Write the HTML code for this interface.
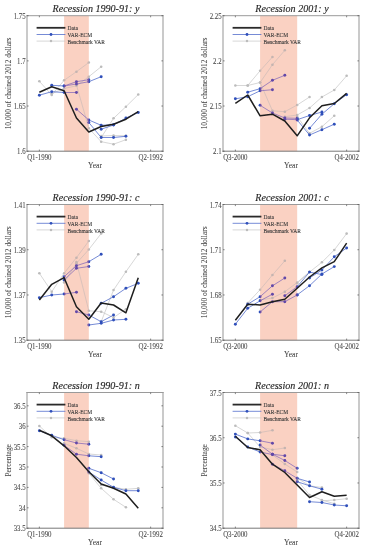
<!DOCTYPE html>
<html><head><meta charset="utf-8"><style>
html,body{margin:0;padding:0;background:#fff;width:366px;height:550px;overflow:hidden}
svg{display:block;will-change:transform;font-family:"Liberation Serif",serif}
</style></head><body>
<svg width="366" height="550" viewBox="0 0 366 550">
<rect width="366" height="550" fill="#fff"/>
<rect x="64.09" y="15.7" width="24.73" height="135.5" fill="#fad1c2"/>
<clipPath id="p00i"><rect x="64.09" y="0" width="24.73" height="550"/></clipPath>
<clipPath id="p00o"><rect x="0" y="0" width="64.09" height="550"/><rect x="88.82" y="0" width="277.18" height="550"/></clipPath>
<g clip-path="url(#p00o)">
<polyline points="39.36,81.3 51.73,95 64.09,80.3 76.45,71.7 88.82,62.5" fill="none" stroke="#c6c6c6" stroke-width="0.7"/>
<circle cx="39.36" cy="81.3" r="1.3" fill="#bcbcbc"/>
<circle cx="51.73" cy="95" r="1.3" fill="#bcbcbc"/>
<circle cx="64.09" cy="80.3" r="1.3" fill="#bcbcbc"/>
<circle cx="76.45" cy="71.7" r="1.3" fill="#bcbcbc"/>
<circle cx="88.82" cy="62.5" r="1.3" fill="#bcbcbc"/>
<polyline points="51.73,93.7 64.09,88.5 76.45,85.8 88.82,76.7 101.18,66.7" fill="none" stroke="#c6c6c6" stroke-width="0.7"/>
<circle cx="51.73" cy="93.7" r="1.3" fill="#bcbcbc"/>
<circle cx="64.09" cy="88.5" r="1.3" fill="#bcbcbc"/>
<circle cx="76.45" cy="85.8" r="1.3" fill="#bcbcbc"/>
<circle cx="88.82" cy="76.7" r="1.3" fill="#bcbcbc"/>
<circle cx="101.18" cy="66.7" r="1.3" fill="#bcbcbc"/>
<polyline points="76.45,85 88.82,128.3 101.18,141.7 113.55,144.2 125.91,139.7" fill="none" stroke="#c6c6c6" stroke-width="0.7"/>
<circle cx="76.45" cy="85" r="1.3" fill="#bcbcbc"/>
<circle cx="88.82" cy="128.3" r="1.3" fill="#bcbcbc"/>
<circle cx="101.18" cy="141.7" r="1.3" fill="#bcbcbc"/>
<circle cx="113.55" cy="144.2" r="1.3" fill="#bcbcbc"/>
<circle cx="125.91" cy="139.7" r="1.3" fill="#bcbcbc"/>
<polyline points="101.18,137.5 113.55,118.3 125.91,106.7 138.27,94.5" fill="none" stroke="#c6c6c6" stroke-width="0.7"/>
<circle cx="101.18" cy="137.5" r="1.3" fill="#bcbcbc"/>
<circle cx="113.55" cy="118.3" r="1.3" fill="#bcbcbc"/>
<circle cx="125.91" cy="106.7" r="1.3" fill="#bcbcbc"/>
<circle cx="138.27" cy="94.5" r="1.3" fill="#bcbcbc"/>
<polyline points="101.18,136 113.55,135.5 125.91,135.8" fill="none" stroke="#c6c6c6" stroke-width="0.7"/>
<circle cx="101.18" cy="136" r="1.3" fill="#bcbcbc"/>
<circle cx="113.55" cy="135.5" r="1.3" fill="#bcbcbc"/>
<circle cx="125.91" cy="135.8" r="1.3" fill="#bcbcbc"/>
<polyline points="39.36,95.2 51.73,91.7 64.09,92.5 76.45,92.5" fill="none" stroke="#4864c8" stroke-width="0.75"/>
<circle cx="39.36" cy="95.2" r="1.45" fill="#2f4fba"/>
<circle cx="51.73" cy="91.7" r="1.45" fill="#2f4fba"/>
<circle cx="64.09" cy="92.5" r="1.45" fill="#2f4fba"/>
<circle cx="76.45" cy="92.5" r="1.45" fill="#2f4fba"/>
<polyline points="51.73,85.3 64.09,86 76.45,81.7 88.82,79.7" fill="none" stroke="#4864c8" stroke-width="0.75"/>
<circle cx="51.73" cy="85.3" r="1.45" fill="#2f4fba"/>
<circle cx="64.09" cy="86" r="1.45" fill="#2f4fba"/>
<circle cx="76.45" cy="81.7" r="1.45" fill="#2f4fba"/>
<circle cx="88.82" cy="79.7" r="1.45" fill="#2f4fba"/>
<polyline points="64.09,86 76.45,84 88.82,81.7 101.18,76.7" fill="none" stroke="#4864c8" stroke-width="0.75"/>
<circle cx="64.09" cy="86" r="1.45" fill="#2f4fba"/>
<circle cx="76.45" cy="84" r="1.45" fill="#2f4fba"/>
<circle cx="88.82" cy="81.7" r="1.45" fill="#2f4fba"/>
<circle cx="101.18" cy="76.7" r="1.45" fill="#2f4fba"/>
<polyline points="76.45,109.2 88.82,120 101.18,125.3 113.55,124.7" fill="none" stroke="#4864c8" stroke-width="0.75"/>
<circle cx="76.45" cy="109.2" r="1.45" fill="#2f4fba"/>
<circle cx="88.82" cy="120" r="1.45" fill="#2f4fba"/>
<circle cx="101.18" cy="125.3" r="1.45" fill="#2f4fba"/>
<circle cx="113.55" cy="124.7" r="1.45" fill="#2f4fba"/>
<polyline points="88.82,122.5 101.18,137.5 113.55,137.5 125.91,136.3" fill="none" stroke="#4864c8" stroke-width="0.75"/>
<circle cx="88.82" cy="122.5" r="1.45" fill="#2f4fba"/>
<circle cx="101.18" cy="137.5" r="1.45" fill="#2f4fba"/>
<circle cx="113.55" cy="137.5" r="1.45" fill="#2f4fba"/>
<circle cx="125.91" cy="136.3" r="1.45" fill="#2f4fba"/>
<polyline points="101.18,129.2 113.55,125 125.91,118 138.27,112.5" fill="none" stroke="#4864c8" stroke-width="0.75"/>
<circle cx="101.18" cy="129.2" r="1.45" fill="#2f4fba"/>
<circle cx="113.55" cy="125" r="1.45" fill="#2f4fba"/>
<circle cx="125.91" cy="118" r="1.45" fill="#2f4fba"/>
<circle cx="138.27" cy="112.5" r="1.45" fill="#2f4fba"/>
</g>
<g clip-path="url(#p00i)">
<polyline points="39.36,81.3 51.73,95 64.09,80.3 76.45,71.7 88.82,62.5" fill="none" stroke="#cdbcb8" stroke-width="0.7"/>
<circle cx="39.36" cy="81.3" r="1.3" fill="#c4b4b0"/>
<circle cx="51.73" cy="95" r="1.3" fill="#c4b4b0"/>
<circle cx="64.09" cy="80.3" r="1.3" fill="#c4b4b0"/>
<circle cx="76.45" cy="71.7" r="1.3" fill="#c4b4b0"/>
<circle cx="88.82" cy="62.5" r="1.3" fill="#c4b4b0"/>
<polyline points="51.73,93.7 64.09,88.5 76.45,85.8 88.82,76.7 101.18,66.7" fill="none" stroke="#cdbcb8" stroke-width="0.7"/>
<circle cx="51.73" cy="93.7" r="1.3" fill="#c4b4b0"/>
<circle cx="64.09" cy="88.5" r="1.3" fill="#c4b4b0"/>
<circle cx="76.45" cy="85.8" r="1.3" fill="#c4b4b0"/>
<circle cx="88.82" cy="76.7" r="1.3" fill="#c4b4b0"/>
<circle cx="101.18" cy="66.7" r="1.3" fill="#c4b4b0"/>
<polyline points="76.45,85 88.82,128.3 101.18,141.7 113.55,144.2 125.91,139.7" fill="none" stroke="#cdbcb8" stroke-width="0.7"/>
<circle cx="76.45" cy="85" r="1.3" fill="#c4b4b0"/>
<circle cx="88.82" cy="128.3" r="1.3" fill="#c4b4b0"/>
<circle cx="101.18" cy="141.7" r="1.3" fill="#c4b4b0"/>
<circle cx="113.55" cy="144.2" r="1.3" fill="#c4b4b0"/>
<circle cx="125.91" cy="139.7" r="1.3" fill="#c4b4b0"/>
<polyline points="101.18,137.5 113.55,118.3 125.91,106.7 138.27,94.5" fill="none" stroke="#cdbcb8" stroke-width="0.7"/>
<circle cx="101.18" cy="137.5" r="1.3" fill="#c4b4b0"/>
<circle cx="113.55" cy="118.3" r="1.3" fill="#c4b4b0"/>
<circle cx="125.91" cy="106.7" r="1.3" fill="#c4b4b0"/>
<circle cx="138.27" cy="94.5" r="1.3" fill="#c4b4b0"/>
<polyline points="101.18,136 113.55,135.5 125.91,135.8" fill="none" stroke="#cdbcb8" stroke-width="0.7"/>
<circle cx="101.18" cy="136" r="1.3" fill="#c4b4b0"/>
<circle cx="113.55" cy="135.5" r="1.3" fill="#c4b4b0"/>
<circle cx="125.91" cy="135.8" r="1.3" fill="#c4b4b0"/>
<polyline points="39.36,95.2 51.73,91.7 64.09,92.5 76.45,92.5" fill="none" stroke="#8468b8" stroke-width="0.75"/>
<circle cx="39.36" cy="95.2" r="1.45" fill="#6248a8"/>
<circle cx="51.73" cy="91.7" r="1.45" fill="#6248a8"/>
<circle cx="64.09" cy="92.5" r="1.45" fill="#6248a8"/>
<circle cx="76.45" cy="92.5" r="1.45" fill="#6248a8"/>
<polyline points="51.73,85.3 64.09,86 76.45,81.7 88.82,79.7" fill="none" stroke="#8468b8" stroke-width="0.75"/>
<circle cx="51.73" cy="85.3" r="1.45" fill="#6248a8"/>
<circle cx="64.09" cy="86" r="1.45" fill="#6248a8"/>
<circle cx="76.45" cy="81.7" r="1.45" fill="#6248a8"/>
<circle cx="88.82" cy="79.7" r="1.45" fill="#6248a8"/>
<polyline points="64.09,86 76.45,84 88.82,81.7 101.18,76.7" fill="none" stroke="#8468b8" stroke-width="0.75"/>
<circle cx="64.09" cy="86" r="1.45" fill="#6248a8"/>
<circle cx="76.45" cy="84" r="1.45" fill="#6248a8"/>
<circle cx="88.82" cy="81.7" r="1.45" fill="#6248a8"/>
<circle cx="101.18" cy="76.7" r="1.45" fill="#6248a8"/>
<polyline points="76.45,109.2 88.82,120 101.18,125.3 113.55,124.7" fill="none" stroke="#8468b8" stroke-width="0.75"/>
<circle cx="76.45" cy="109.2" r="1.45" fill="#6248a8"/>
<circle cx="88.82" cy="120" r="1.45" fill="#6248a8"/>
<circle cx="101.18" cy="125.3" r="1.45" fill="#6248a8"/>
<circle cx="113.55" cy="124.7" r="1.45" fill="#6248a8"/>
<polyline points="88.82,122.5 101.18,137.5 113.55,137.5 125.91,136.3" fill="none" stroke="#8468b8" stroke-width="0.75"/>
<circle cx="88.82" cy="122.5" r="1.45" fill="#6248a8"/>
<circle cx="101.18" cy="137.5" r="1.45" fill="#6248a8"/>
<circle cx="113.55" cy="137.5" r="1.45" fill="#6248a8"/>
<circle cx="125.91" cy="136.3" r="1.45" fill="#6248a8"/>
<polyline points="101.18,129.2 113.55,125 125.91,118 138.27,112.5" fill="none" stroke="#8468b8" stroke-width="0.75"/>
<circle cx="101.18" cy="129.2" r="1.45" fill="#6248a8"/>
<circle cx="113.55" cy="125" r="1.45" fill="#6248a8"/>
<circle cx="125.91" cy="118" r="1.45" fill="#6248a8"/>
<circle cx="138.27" cy="112.5" r="1.45" fill="#6248a8"/>
</g>
<line x1="36.6" y1="27.8" x2="65.4" y2="27.8" stroke="#2a2a2a" stroke-width="1.8"/>
<line x1="36.6" y1="34.5" x2="65.4" y2="34.5" stroke="#4864c8" stroke-width="0.75"/>
<circle cx="51" cy="34.5" r="1.4" fill="#2f4fba"/>
<line x1="36.6" y1="41.1" x2="65.4" y2="41.1" stroke="#c6c6c6" stroke-width="0.7"/>
<circle cx="51" cy="41.1" r="1.25" fill="#bcbcbc"/>
<text transform="translate(67.5,30.4) scale(0.95,1)" font-size="5.8" fill="#383838" stroke="#383838" stroke-width="0.1" text-anchor="start">Data</text>
<text transform="translate(67.5,37.1) scale(0.95,1)" font-size="5.8" fill="#383838" stroke="#383838" stroke-width="0.1" text-anchor="start">VAR-ECM</text>
<text transform="translate(67.5,43.7) scale(0.95,1)" font-size="5.8" fill="#383838" stroke="#383838" stroke-width="0.1" text-anchor="start">Benchmark VAR</text>
<polyline points="39.36,92.3 51.73,86.7 64.09,90.7 76.45,118 88.82,132 101.18,126.5 113.55,124.2 125.91,119.2 138.27,111.7" fill="none" stroke="#1e1e1e" stroke-width="1.5" stroke-linejoin="round"/>
<line x1="27" y1="15.1" x2="27" y2="152" stroke="#b4b4b4" stroke-width="1.4"/>
<line x1="163" y1="15.1" x2="163" y2="152" stroke="#b4b4b4" stroke-width="1.4"/>
<line x1="26.4" y1="15.7" x2="163.6" y2="15.7" stroke="#9a9a9a" stroke-width="1.0"/>
<line x1="26.4" y1="151.2" x2="163.6" y2="151.2" stroke="#787878" stroke-width="1.0"/>
<line x1="27" y1="151.2" x2="28.6" y2="151.2" stroke="#555" stroke-width="0.7"/>
<line x1="161.4" y1="151.2" x2="163" y2="151.2" stroke="#555" stroke-width="0.7"/>
<text transform="translate(25.6,154.2) scale(0.9,1)" font-size="7.6" fill="#4a4a4a" stroke="#4a4a4a" stroke-width="0.08" text-anchor="end">1.6</text>
<line x1="27" y1="106.03" x2="28.6" y2="106.03" stroke="#555" stroke-width="0.7"/>
<line x1="161.4" y1="106.03" x2="163" y2="106.03" stroke="#555" stroke-width="0.7"/>
<text transform="translate(25.6,109.03) scale(0.9,1)" font-size="7.6" fill="#4a4a4a" stroke="#4a4a4a" stroke-width="0.08" text-anchor="end">1.65</text>
<line x1="27" y1="60.87" x2="28.6" y2="60.87" stroke="#555" stroke-width="0.7"/>
<line x1="161.4" y1="60.87" x2="163" y2="60.87" stroke="#555" stroke-width="0.7"/>
<text transform="translate(25.6,63.87) scale(0.9,1)" font-size="7.6" fill="#4a4a4a" stroke="#4a4a4a" stroke-width="0.08" text-anchor="end">1.7</text>
<line x1="27" y1="15.7" x2="28.6" y2="15.7" stroke="#555" stroke-width="0.7"/>
<line x1="161.4" y1="15.7" x2="163" y2="15.7" stroke="#555" stroke-width="0.7"/>
<text transform="translate(25.6,18.7) scale(0.9,1)" font-size="7.6" fill="#4a4a4a" stroke="#4a4a4a" stroke-width="0.08" text-anchor="end">1.75</text>
<line x1="39.36" y1="151.2" x2="39.36" y2="149.6" stroke="#555" stroke-width="0.7"/>
<line x1="39.36" y1="15.7" x2="39.36" y2="17.3" stroke="#555" stroke-width="0.7"/>
<line x1="150.64" y1="151.2" x2="150.64" y2="149.6" stroke="#555" stroke-width="0.7"/>
<line x1="150.64" y1="15.7" x2="150.64" y2="17.3" stroke="#555" stroke-width="0.7"/>
<text transform="translate(39.36,159.9) scale(0.93,1)" font-size="7.4" fill="#4a4a4a" stroke="#4a4a4a" stroke-width="0.08" text-anchor="middle">Q1-1990</text>
<text transform="translate(150.64,159.9) scale(0.93,1)" font-size="7.4" fill="#4a4a4a" stroke="#4a4a4a" stroke-width="0.08" text-anchor="middle">Q2-1992</text>
<text transform="translate(95,168.4) scale(0.96,1)" font-size="7.9" fill="#444444" stroke="#444444" stroke-width="0.06" text-anchor="middle">Year</text>
<text transform="translate(96,12) scale(0.893,1)" font-size="11.3" fill="#262626" stroke="#262626" stroke-width="0.15" text-anchor="middle" font-style="italic">Recession 1990-91: y</text>
<text transform="translate(10.5,83.45) rotate(-90)" font-size="7.4" fill="#444444" stroke="#444444" stroke-width="0.06" text-anchor="middle">10,000 of chained 2012 dollars</text>
<rect x="260.09" y="15.7" width="37.09" height="135.5" fill="#fad1c2"/>
<clipPath id="p10i"><rect x="260.09" y="0" width="37.09" height="550"/></clipPath>
<clipPath id="p10o"><rect x="0" y="0" width="260.09" height="550"/><rect x="297.18" y="0" width="68.82" height="550"/></clipPath>
<g clip-path="url(#p10o)">
<polyline points="235.36,85.5 247.73,85.5 260.09,82.5 272.45,64.7 284.82,50.3" fill="none" stroke="#c6c6c6" stroke-width="0.7"/>
<circle cx="235.36" cy="85.5" r="1.3" fill="#bcbcbc"/>
<circle cx="247.73" cy="85.5" r="1.3" fill="#bcbcbc"/>
<circle cx="260.09" cy="82.5" r="1.3" fill="#bcbcbc"/>
<circle cx="272.45" cy="64.7" r="1.3" fill="#bcbcbc"/>
<circle cx="284.82" cy="50.3" r="1.3" fill="#bcbcbc"/>
<polyline points="247.73,85.5 260.09,70.8 272.45,57" fill="none" stroke="#c6c6c6" stroke-width="0.7"/>
<circle cx="247.73" cy="85.5" r="1.3" fill="#bcbcbc"/>
<circle cx="260.09" cy="70.8" r="1.3" fill="#bcbcbc"/>
<circle cx="272.45" cy="57" r="1.3" fill="#bcbcbc"/>
<polyline points="260.09,82.5 272.45,110.8 284.82,111.7 297.18,105 309.55,97" fill="none" stroke="#c6c6c6" stroke-width="0.7"/>
<circle cx="260.09" cy="82.5" r="1.3" fill="#bcbcbc"/>
<circle cx="272.45" cy="110.8" r="1.3" fill="#bcbcbc"/>
<circle cx="284.82" cy="111.7" r="1.3" fill="#bcbcbc"/>
<circle cx="297.18" cy="105" r="1.3" fill="#bcbcbc"/>
<circle cx="309.55" cy="97" r="1.3" fill="#bcbcbc"/>
<polyline points="284.82,116.7 297.18,115 309.55,108 321.91,97 334.27,90 346.64,75.8" fill="none" stroke="#c6c6c6" stroke-width="0.7"/>
<circle cx="284.82" cy="116.7" r="1.3" fill="#bcbcbc"/>
<circle cx="297.18" cy="115" r="1.3" fill="#bcbcbc"/>
<circle cx="309.55" cy="108" r="1.3" fill="#bcbcbc"/>
<circle cx="321.91" cy="97" r="1.3" fill="#bcbcbc"/>
<circle cx="334.27" cy="90" r="1.3" fill="#bcbcbc"/>
<circle cx="346.64" cy="75.8" r="1.3" fill="#bcbcbc"/>
<polyline points="297.18,116.7 309.55,133.3 321.91,126.7 334.27,115.8" fill="none" stroke="#c6c6c6" stroke-width="0.7"/>
<circle cx="297.18" cy="116.7" r="1.3" fill="#bcbcbc"/>
<circle cx="309.55" cy="133.3" r="1.3" fill="#bcbcbc"/>
<circle cx="321.91" cy="126.7" r="1.3" fill="#bcbcbc"/>
<circle cx="334.27" cy="115.8" r="1.3" fill="#bcbcbc"/>
<polyline points="235.36,98.8 247.73,96.7 260.09,90.8 272.45,89.7" fill="none" stroke="#4864c8" stroke-width="0.75"/>
<circle cx="235.36" cy="98.8" r="1.45" fill="#2f4fba"/>
<circle cx="247.73" cy="96.7" r="1.45" fill="#2f4fba"/>
<circle cx="260.09" cy="90.8" r="1.45" fill="#2f4fba"/>
<circle cx="272.45" cy="89.7" r="1.45" fill="#2f4fba"/>
<polyline points="247.73,92.2 260.09,88.7 272.45,80.3 284.82,75.3" fill="none" stroke="#4864c8" stroke-width="0.75"/>
<circle cx="247.73" cy="92.2" r="1.45" fill="#2f4fba"/>
<circle cx="260.09" cy="88.7" r="1.45" fill="#2f4fba"/>
<circle cx="272.45" cy="80.3" r="1.45" fill="#2f4fba"/>
<circle cx="284.82" cy="75.3" r="1.45" fill="#2f4fba"/>
<polyline points="260.09,105.3 272.45,113 284.82,118 297.18,118.3" fill="none" stroke="#4864c8" stroke-width="0.75"/>
<circle cx="260.09" cy="105.3" r="1.45" fill="#2f4fba"/>
<circle cx="272.45" cy="113" r="1.45" fill="#2f4fba"/>
<circle cx="284.82" cy="118" r="1.45" fill="#2f4fba"/>
<circle cx="297.18" cy="118.3" r="1.45" fill="#2f4fba"/>
<polyline points="284.82,119.2 297.18,119.7 309.55,115.5 321.91,112" fill="none" stroke="#4864c8" stroke-width="0.75"/>
<circle cx="284.82" cy="119.2" r="1.45" fill="#2f4fba"/>
<circle cx="297.18" cy="119.7" r="1.45" fill="#2f4fba"/>
<circle cx="309.55" cy="115.5" r="1.45" fill="#2f4fba"/>
<circle cx="321.91" cy="112" r="1.45" fill="#2f4fba"/>
<polyline points="297.18,120 309.55,135 321.91,129.7 334.27,124.2" fill="none" stroke="#4864c8" stroke-width="0.75"/>
<circle cx="297.18" cy="120" r="1.45" fill="#2f4fba"/>
<circle cx="309.55" cy="135" r="1.45" fill="#2f4fba"/>
<circle cx="321.91" cy="129.7" r="1.45" fill="#2f4fba"/>
<circle cx="334.27" cy="124.2" r="1.45" fill="#2f4fba"/>
<polyline points="309.55,128.3 321.91,114.2 334.27,103.7 346.64,94.7" fill="none" stroke="#4864c8" stroke-width="0.75"/>
<circle cx="309.55" cy="128.3" r="1.45" fill="#2f4fba"/>
<circle cx="321.91" cy="114.2" r="1.45" fill="#2f4fba"/>
<circle cx="334.27" cy="103.7" r="1.45" fill="#2f4fba"/>
<circle cx="346.64" cy="94.7" r="1.45" fill="#2f4fba"/>
</g>
<g clip-path="url(#p10i)">
<polyline points="235.36,85.5 247.73,85.5 260.09,82.5 272.45,64.7 284.82,50.3" fill="none" stroke="#cdbcb8" stroke-width="0.7"/>
<circle cx="235.36" cy="85.5" r="1.3" fill="#c4b4b0"/>
<circle cx="247.73" cy="85.5" r="1.3" fill="#c4b4b0"/>
<circle cx="260.09" cy="82.5" r="1.3" fill="#c4b4b0"/>
<circle cx="272.45" cy="64.7" r="1.3" fill="#c4b4b0"/>
<circle cx="284.82" cy="50.3" r="1.3" fill="#c4b4b0"/>
<polyline points="247.73,85.5 260.09,70.8 272.45,57" fill="none" stroke="#cdbcb8" stroke-width="0.7"/>
<circle cx="247.73" cy="85.5" r="1.3" fill="#c4b4b0"/>
<circle cx="260.09" cy="70.8" r="1.3" fill="#c4b4b0"/>
<circle cx="272.45" cy="57" r="1.3" fill="#c4b4b0"/>
<polyline points="260.09,82.5 272.45,110.8 284.82,111.7 297.18,105 309.55,97" fill="none" stroke="#cdbcb8" stroke-width="0.7"/>
<circle cx="260.09" cy="82.5" r="1.3" fill="#c4b4b0"/>
<circle cx="272.45" cy="110.8" r="1.3" fill="#c4b4b0"/>
<circle cx="284.82" cy="111.7" r="1.3" fill="#c4b4b0"/>
<circle cx="297.18" cy="105" r="1.3" fill="#c4b4b0"/>
<circle cx="309.55" cy="97" r="1.3" fill="#c4b4b0"/>
<polyline points="284.82,116.7 297.18,115 309.55,108 321.91,97 334.27,90 346.64,75.8" fill="none" stroke="#cdbcb8" stroke-width="0.7"/>
<circle cx="284.82" cy="116.7" r="1.3" fill="#c4b4b0"/>
<circle cx="297.18" cy="115" r="1.3" fill="#c4b4b0"/>
<circle cx="309.55" cy="108" r="1.3" fill="#c4b4b0"/>
<circle cx="321.91" cy="97" r="1.3" fill="#c4b4b0"/>
<circle cx="334.27" cy="90" r="1.3" fill="#c4b4b0"/>
<circle cx="346.64" cy="75.8" r="1.3" fill="#c4b4b0"/>
<polyline points="297.18,116.7 309.55,133.3 321.91,126.7 334.27,115.8" fill="none" stroke="#cdbcb8" stroke-width="0.7"/>
<circle cx="297.18" cy="116.7" r="1.3" fill="#c4b4b0"/>
<circle cx="309.55" cy="133.3" r="1.3" fill="#c4b4b0"/>
<circle cx="321.91" cy="126.7" r="1.3" fill="#c4b4b0"/>
<circle cx="334.27" cy="115.8" r="1.3" fill="#c4b4b0"/>
<polyline points="235.36,98.8 247.73,96.7 260.09,90.8 272.45,89.7" fill="none" stroke="#8468b8" stroke-width="0.75"/>
<circle cx="235.36" cy="98.8" r="1.45" fill="#6248a8"/>
<circle cx="247.73" cy="96.7" r="1.45" fill="#6248a8"/>
<circle cx="260.09" cy="90.8" r="1.45" fill="#6248a8"/>
<circle cx="272.45" cy="89.7" r="1.45" fill="#6248a8"/>
<polyline points="247.73,92.2 260.09,88.7 272.45,80.3 284.82,75.3" fill="none" stroke="#8468b8" stroke-width="0.75"/>
<circle cx="247.73" cy="92.2" r="1.45" fill="#6248a8"/>
<circle cx="260.09" cy="88.7" r="1.45" fill="#6248a8"/>
<circle cx="272.45" cy="80.3" r="1.45" fill="#6248a8"/>
<circle cx="284.82" cy="75.3" r="1.45" fill="#6248a8"/>
<polyline points="260.09,105.3 272.45,113 284.82,118 297.18,118.3" fill="none" stroke="#8468b8" stroke-width="0.75"/>
<circle cx="260.09" cy="105.3" r="1.45" fill="#6248a8"/>
<circle cx="272.45" cy="113" r="1.45" fill="#6248a8"/>
<circle cx="284.82" cy="118" r="1.45" fill="#6248a8"/>
<circle cx="297.18" cy="118.3" r="1.45" fill="#6248a8"/>
<polyline points="284.82,119.2 297.18,119.7 309.55,115.5 321.91,112" fill="none" stroke="#8468b8" stroke-width="0.75"/>
<circle cx="284.82" cy="119.2" r="1.45" fill="#6248a8"/>
<circle cx="297.18" cy="119.7" r="1.45" fill="#6248a8"/>
<circle cx="309.55" cy="115.5" r="1.45" fill="#6248a8"/>
<circle cx="321.91" cy="112" r="1.45" fill="#6248a8"/>
<polyline points="297.18,120 309.55,135 321.91,129.7 334.27,124.2" fill="none" stroke="#8468b8" stroke-width="0.75"/>
<circle cx="297.18" cy="120" r="1.45" fill="#6248a8"/>
<circle cx="309.55" cy="135" r="1.45" fill="#6248a8"/>
<circle cx="321.91" cy="129.7" r="1.45" fill="#6248a8"/>
<circle cx="334.27" cy="124.2" r="1.45" fill="#6248a8"/>
<polyline points="309.55,128.3 321.91,114.2 334.27,103.7 346.64,94.7" fill="none" stroke="#8468b8" stroke-width="0.75"/>
<circle cx="309.55" cy="128.3" r="1.45" fill="#6248a8"/>
<circle cx="321.91" cy="114.2" r="1.45" fill="#6248a8"/>
<circle cx="334.27" cy="103.7" r="1.45" fill="#6248a8"/>
<circle cx="346.64" cy="94.7" r="1.45" fill="#6248a8"/>
</g>
<line x1="232.6" y1="27.8" x2="261.4" y2="27.8" stroke="#2a2a2a" stroke-width="1.8"/>
<line x1="232.6" y1="34.5" x2="261.4" y2="34.5" stroke="#4864c8" stroke-width="0.75"/>
<circle cx="247" cy="34.5" r="1.4" fill="#2f4fba"/>
<line x1="232.6" y1="41.1" x2="261.4" y2="41.1" stroke="#c6c6c6" stroke-width="0.7"/>
<circle cx="247" cy="41.1" r="1.25" fill="#bcbcbc"/>
<text transform="translate(263.5,30.4) scale(0.95,1)" font-size="5.8" fill="#383838" stroke="#383838" stroke-width="0.1" text-anchor="start">Data</text>
<text transform="translate(263.5,37.1) scale(0.95,1)" font-size="5.8" fill="#383838" stroke="#383838" stroke-width="0.1" text-anchor="start">VAR-ECM</text>
<text transform="translate(263.5,43.7) scale(0.95,1)" font-size="5.8" fill="#383838" stroke="#383838" stroke-width="0.1" text-anchor="start">Benchmark VAR</text>
<polyline points="235.36,103.3 247.73,95 260.09,115.8 272.45,114.2 284.82,121 297.18,135.8 309.55,117.8 321.91,105.8 334.27,103.5 346.64,93.3" fill="none" stroke="#1e1e1e" stroke-width="1.5" stroke-linejoin="round"/>
<line x1="223" y1="15.1" x2="223" y2="152" stroke="#b4b4b4" stroke-width="1.4"/>
<line x1="359" y1="15.1" x2="359" y2="152" stroke="#b4b4b4" stroke-width="1.4"/>
<line x1="222.4" y1="15.7" x2="359.6" y2="15.7" stroke="#9a9a9a" stroke-width="1.0"/>
<line x1="222.4" y1="151.2" x2="359.6" y2="151.2" stroke="#787878" stroke-width="1.0"/>
<line x1="223" y1="151.2" x2="224.6" y2="151.2" stroke="#555" stroke-width="0.7"/>
<line x1="357.4" y1="151.2" x2="359" y2="151.2" stroke="#555" stroke-width="0.7"/>
<text transform="translate(221.6,154.2) scale(0.9,1)" font-size="7.6" fill="#4a4a4a" stroke="#4a4a4a" stroke-width="0.08" text-anchor="end">2.1</text>
<line x1="223" y1="106.03" x2="224.6" y2="106.03" stroke="#555" stroke-width="0.7"/>
<line x1="357.4" y1="106.03" x2="359" y2="106.03" stroke="#555" stroke-width="0.7"/>
<text transform="translate(221.6,109.03) scale(0.9,1)" font-size="7.6" fill="#4a4a4a" stroke="#4a4a4a" stroke-width="0.08" text-anchor="end">2.15</text>
<line x1="223" y1="60.87" x2="224.6" y2="60.87" stroke="#555" stroke-width="0.7"/>
<line x1="357.4" y1="60.87" x2="359" y2="60.87" stroke="#555" stroke-width="0.7"/>
<text transform="translate(221.6,63.87) scale(0.9,1)" font-size="7.6" fill="#4a4a4a" stroke="#4a4a4a" stroke-width="0.08" text-anchor="end">2.2</text>
<line x1="223" y1="15.7" x2="224.6" y2="15.7" stroke="#555" stroke-width="0.7"/>
<line x1="357.4" y1="15.7" x2="359" y2="15.7" stroke="#555" stroke-width="0.7"/>
<text transform="translate(221.6,18.7) scale(0.9,1)" font-size="7.6" fill="#4a4a4a" stroke="#4a4a4a" stroke-width="0.08" text-anchor="end">2.25</text>
<line x1="235.36" y1="151.2" x2="235.36" y2="149.6" stroke="#555" stroke-width="0.7"/>
<line x1="235.36" y1="15.7" x2="235.36" y2="17.3" stroke="#555" stroke-width="0.7"/>
<line x1="346.64" y1="151.2" x2="346.64" y2="149.6" stroke="#555" stroke-width="0.7"/>
<line x1="346.64" y1="15.7" x2="346.64" y2="17.3" stroke="#555" stroke-width="0.7"/>
<text transform="translate(235.36,159.9) scale(0.93,1)" font-size="7.4" fill="#4a4a4a" stroke="#4a4a4a" stroke-width="0.08" text-anchor="middle">Q3-2000</text>
<text transform="translate(346.64,159.9) scale(0.93,1)" font-size="7.4" fill="#4a4a4a" stroke="#4a4a4a" stroke-width="0.08" text-anchor="middle">Q4-2002</text>
<text transform="translate(291,168.4) scale(0.96,1)" font-size="7.9" fill="#444444" stroke="#444444" stroke-width="0.06" text-anchor="middle">Year</text>
<text transform="translate(292,12) scale(0.893,1)" font-size="11.3" fill="#262626" stroke="#262626" stroke-width="0.15" text-anchor="middle" font-style="italic">Recession 2001: y</text>
<text transform="translate(206.5,83.45) rotate(-90)" font-size="7.4" fill="#444444" stroke="#444444" stroke-width="0.06" text-anchor="middle">10,000 of chained 2012 dollars</text>
<rect x="64.09" y="204.5" width="24.73" height="135.7" fill="#fad1c2"/>
<clipPath id="p01i"><rect x="64.09" y="0" width="24.73" height="550"/></clipPath>
<clipPath id="p01o"><rect x="0" y="0" width="64.09" height="550"/><rect x="88.82" y="0" width="277.18" height="550"/></clipPath>
<g clip-path="url(#p01o)">
<polyline points="39.36,273.3 51.73,291.7 64.09,273.3 76.45,257.7 88.82,241" fill="none" stroke="#c6c6c6" stroke-width="0.7"/>
<circle cx="39.36" cy="273.3" r="1.3" fill="#bcbcbc"/>
<circle cx="51.73" cy="291.7" r="1.3" fill="#bcbcbc"/>
<circle cx="64.09" cy="273.3" r="1.3" fill="#bcbcbc"/>
<circle cx="76.45" cy="257.7" r="1.3" fill="#bcbcbc"/>
<circle cx="88.82" cy="241" r="1.3" fill="#bcbcbc"/>
<polyline points="64.09,282.5 76.45,263.3 88.82,249.5 101.18,233.5" fill="none" stroke="#c6c6c6" stroke-width="0.7"/>
<circle cx="64.09" cy="282.5" r="1.3" fill="#bcbcbc"/>
<circle cx="76.45" cy="263.3" r="1.3" fill="#bcbcbc"/>
<circle cx="88.82" cy="249.5" r="1.3" fill="#bcbcbc"/>
<circle cx="101.18" cy="233.5" r="1.3" fill="#bcbcbc"/>
<polyline points="76.45,262 88.82,310.8 101.18,311.7 113.55,317.5 125.91,309.2" fill="none" stroke="#c6c6c6" stroke-width="0.7"/>
<circle cx="76.45" cy="262" r="1.3" fill="#bcbcbc"/>
<circle cx="88.82" cy="310.8" r="1.3" fill="#bcbcbc"/>
<circle cx="101.18" cy="311.7" r="1.3" fill="#bcbcbc"/>
<circle cx="113.55" cy="317.5" r="1.3" fill="#bcbcbc"/>
<circle cx="125.91" cy="309.2" r="1.3" fill="#bcbcbc"/>
<polyline points="101.18,321.7 113.55,290 125.91,271.7 138.27,254.3" fill="none" stroke="#c6c6c6" stroke-width="0.7"/>
<circle cx="101.18" cy="321.7" r="1.3" fill="#bcbcbc"/>
<circle cx="113.55" cy="290" r="1.3" fill="#bcbcbc"/>
<circle cx="125.91" cy="271.7" r="1.3" fill="#bcbcbc"/>
<circle cx="138.27" cy="254.3" r="1.3" fill="#bcbcbc"/>
<polyline points="39.36,297.7 51.73,295 64.09,294 76.45,292.3" fill="none" stroke="#4864c8" stroke-width="0.75"/>
<circle cx="39.36" cy="297.7" r="1.45" fill="#2f4fba"/>
<circle cx="51.73" cy="295" r="1.45" fill="#2f4fba"/>
<circle cx="64.09" cy="294" r="1.45" fill="#2f4fba"/>
<circle cx="76.45" cy="292.3" r="1.45" fill="#2f4fba"/>
<polyline points="64.09,276.7 76.45,265.7 88.82,261.7 101.18,254.3" fill="none" stroke="#4864c8" stroke-width="0.75"/>
<circle cx="64.09" cy="276.7" r="1.45" fill="#2f4fba"/>
<circle cx="76.45" cy="265.7" r="1.45" fill="#2f4fba"/>
<circle cx="88.82" cy="261.7" r="1.45" fill="#2f4fba"/>
<circle cx="101.18" cy="254.3" r="1.45" fill="#2f4fba"/>
<polyline points="64.09,280 76.45,268.3 88.82,266.5" fill="none" stroke="#4864c8" stroke-width="0.75"/>
<circle cx="64.09" cy="280" r="1.45" fill="#2f4fba"/>
<circle cx="76.45" cy="268.3" r="1.45" fill="#2f4fba"/>
<circle cx="88.82" cy="266.5" r="1.45" fill="#2f4fba"/>
<polyline points="76.45,311.7 88.82,315 101.18,321.7 113.55,315" fill="none" stroke="#4864c8" stroke-width="0.75"/>
<circle cx="76.45" cy="311.7" r="1.45" fill="#2f4fba"/>
<circle cx="88.82" cy="315" r="1.45" fill="#2f4fba"/>
<circle cx="101.18" cy="321.7" r="1.45" fill="#2f4fba"/>
<circle cx="113.55" cy="315" r="1.45" fill="#2f4fba"/>
<polyline points="88.82,325 101.18,323.3 113.55,320 125.91,319.3" fill="none" stroke="#4864c8" stroke-width="0.75"/>
<circle cx="88.82" cy="325" r="1.45" fill="#2f4fba"/>
<circle cx="101.18" cy="323.3" r="1.45" fill="#2f4fba"/>
<circle cx="113.55" cy="320" r="1.45" fill="#2f4fba"/>
<circle cx="125.91" cy="319.3" r="1.45" fill="#2f4fba"/>
<polyline points="101.18,303.3 113.55,296.7 125.91,288.3 138.27,283.3" fill="none" stroke="#4864c8" stroke-width="0.75"/>
<circle cx="101.18" cy="303.3" r="1.45" fill="#2f4fba"/>
<circle cx="113.55" cy="296.7" r="1.45" fill="#2f4fba"/>
<circle cx="125.91" cy="288.3" r="1.45" fill="#2f4fba"/>
<circle cx="138.27" cy="283.3" r="1.45" fill="#2f4fba"/>
</g>
<g clip-path="url(#p01i)">
<polyline points="39.36,273.3 51.73,291.7 64.09,273.3 76.45,257.7 88.82,241" fill="none" stroke="#cdbcb8" stroke-width="0.7"/>
<circle cx="39.36" cy="273.3" r="1.3" fill="#c4b4b0"/>
<circle cx="51.73" cy="291.7" r="1.3" fill="#c4b4b0"/>
<circle cx="64.09" cy="273.3" r="1.3" fill="#c4b4b0"/>
<circle cx="76.45" cy="257.7" r="1.3" fill="#c4b4b0"/>
<circle cx="88.82" cy="241" r="1.3" fill="#c4b4b0"/>
<polyline points="64.09,282.5 76.45,263.3 88.82,249.5 101.18,233.5" fill="none" stroke="#cdbcb8" stroke-width="0.7"/>
<circle cx="64.09" cy="282.5" r="1.3" fill="#c4b4b0"/>
<circle cx="76.45" cy="263.3" r="1.3" fill="#c4b4b0"/>
<circle cx="88.82" cy="249.5" r="1.3" fill="#c4b4b0"/>
<circle cx="101.18" cy="233.5" r="1.3" fill="#c4b4b0"/>
<polyline points="76.45,262 88.82,310.8 101.18,311.7 113.55,317.5 125.91,309.2" fill="none" stroke="#cdbcb8" stroke-width="0.7"/>
<circle cx="76.45" cy="262" r="1.3" fill="#c4b4b0"/>
<circle cx="88.82" cy="310.8" r="1.3" fill="#c4b4b0"/>
<circle cx="101.18" cy="311.7" r="1.3" fill="#c4b4b0"/>
<circle cx="113.55" cy="317.5" r="1.3" fill="#c4b4b0"/>
<circle cx="125.91" cy="309.2" r="1.3" fill="#c4b4b0"/>
<polyline points="101.18,321.7 113.55,290 125.91,271.7 138.27,254.3" fill="none" stroke="#cdbcb8" stroke-width="0.7"/>
<circle cx="101.18" cy="321.7" r="1.3" fill="#c4b4b0"/>
<circle cx="113.55" cy="290" r="1.3" fill="#c4b4b0"/>
<circle cx="125.91" cy="271.7" r="1.3" fill="#c4b4b0"/>
<circle cx="138.27" cy="254.3" r="1.3" fill="#c4b4b0"/>
<polyline points="39.36,297.7 51.73,295 64.09,294 76.45,292.3" fill="none" stroke="#8468b8" stroke-width="0.75"/>
<circle cx="39.36" cy="297.7" r="1.45" fill="#6248a8"/>
<circle cx="51.73" cy="295" r="1.45" fill="#6248a8"/>
<circle cx="64.09" cy="294" r="1.45" fill="#6248a8"/>
<circle cx="76.45" cy="292.3" r="1.45" fill="#6248a8"/>
<polyline points="64.09,276.7 76.45,265.7 88.82,261.7 101.18,254.3" fill="none" stroke="#8468b8" stroke-width="0.75"/>
<circle cx="64.09" cy="276.7" r="1.45" fill="#6248a8"/>
<circle cx="76.45" cy="265.7" r="1.45" fill="#6248a8"/>
<circle cx="88.82" cy="261.7" r="1.45" fill="#6248a8"/>
<circle cx="101.18" cy="254.3" r="1.45" fill="#6248a8"/>
<polyline points="64.09,280 76.45,268.3 88.82,266.5" fill="none" stroke="#8468b8" stroke-width="0.75"/>
<circle cx="64.09" cy="280" r="1.45" fill="#6248a8"/>
<circle cx="76.45" cy="268.3" r="1.45" fill="#6248a8"/>
<circle cx="88.82" cy="266.5" r="1.45" fill="#6248a8"/>
<polyline points="76.45,311.7 88.82,315 101.18,321.7 113.55,315" fill="none" stroke="#8468b8" stroke-width="0.75"/>
<circle cx="76.45" cy="311.7" r="1.45" fill="#6248a8"/>
<circle cx="88.82" cy="315" r="1.45" fill="#6248a8"/>
<circle cx="101.18" cy="321.7" r="1.45" fill="#6248a8"/>
<circle cx="113.55" cy="315" r="1.45" fill="#6248a8"/>
<polyline points="88.82,325 101.18,323.3 113.55,320 125.91,319.3" fill="none" stroke="#8468b8" stroke-width="0.75"/>
<circle cx="88.82" cy="325" r="1.45" fill="#6248a8"/>
<circle cx="101.18" cy="323.3" r="1.45" fill="#6248a8"/>
<circle cx="113.55" cy="320" r="1.45" fill="#6248a8"/>
<circle cx="125.91" cy="319.3" r="1.45" fill="#6248a8"/>
<polyline points="101.18,303.3 113.55,296.7 125.91,288.3 138.27,283.3" fill="none" stroke="#8468b8" stroke-width="0.75"/>
<circle cx="101.18" cy="303.3" r="1.45" fill="#6248a8"/>
<circle cx="113.55" cy="296.7" r="1.45" fill="#6248a8"/>
<circle cx="125.91" cy="288.3" r="1.45" fill="#6248a8"/>
<circle cx="138.27" cy="283.3" r="1.45" fill="#6248a8"/>
</g>
<line x1="36.6" y1="216.6" x2="65.4" y2="216.6" stroke="#2a2a2a" stroke-width="1.8"/>
<line x1="36.6" y1="223.3" x2="65.4" y2="223.3" stroke="#4864c8" stroke-width="0.75"/>
<circle cx="51" cy="223.3" r="1.4" fill="#2f4fba"/>
<line x1="36.6" y1="229.9" x2="65.4" y2="229.9" stroke="#c6c6c6" stroke-width="0.7"/>
<circle cx="51" cy="229.9" r="1.25" fill="#bcbcbc"/>
<text transform="translate(67.5,219.2) scale(0.95,1)" font-size="5.8" fill="#383838" stroke="#383838" stroke-width="0.1" text-anchor="start">Data</text>
<text transform="translate(67.5,225.9) scale(0.95,1)" font-size="5.8" fill="#383838" stroke="#383838" stroke-width="0.1" text-anchor="start">VAR-ECM</text>
<text transform="translate(67.5,232.5) scale(0.95,1)" font-size="5.8" fill="#383838" stroke="#383838" stroke-width="0.1" text-anchor="start">Benchmark VAR</text>
<polyline points="39.36,300 51.73,284.3 64.09,277.7 76.45,306.7 88.82,319.2 101.18,303 113.55,305 125.91,312.8 138.27,277.7" fill="none" stroke="#1e1e1e" stroke-width="1.5" stroke-linejoin="round"/>
<line x1="27" y1="203.9" x2="27" y2="341" stroke="#b4b4b4" stroke-width="1.4"/>
<line x1="163" y1="203.9" x2="163" y2="341" stroke="#b4b4b4" stroke-width="1.4"/>
<line x1="26.4" y1="204.5" x2="163.6" y2="204.5" stroke="#9a9a9a" stroke-width="1.0"/>
<line x1="26.4" y1="340.2" x2="163.6" y2="340.2" stroke="#787878" stroke-width="1.0"/>
<line x1="27" y1="340.2" x2="28.6" y2="340.2" stroke="#555" stroke-width="0.7"/>
<line x1="161.4" y1="340.2" x2="163" y2="340.2" stroke="#555" stroke-width="0.7"/>
<text transform="translate(25.6,343.2) scale(0.9,1)" font-size="7.6" fill="#4a4a4a" stroke="#4a4a4a" stroke-width="0.08" text-anchor="end">1.35</text>
<line x1="27" y1="294.97" x2="28.6" y2="294.97" stroke="#555" stroke-width="0.7"/>
<line x1="161.4" y1="294.97" x2="163" y2="294.97" stroke="#555" stroke-width="0.7"/>
<text transform="translate(25.6,297.97) scale(0.9,1)" font-size="7.6" fill="#4a4a4a" stroke="#4a4a4a" stroke-width="0.08" text-anchor="end">1.37</text>
<line x1="27" y1="249.73" x2="28.6" y2="249.73" stroke="#555" stroke-width="0.7"/>
<line x1="161.4" y1="249.73" x2="163" y2="249.73" stroke="#555" stroke-width="0.7"/>
<text transform="translate(25.6,252.73) scale(0.9,1)" font-size="7.6" fill="#4a4a4a" stroke="#4a4a4a" stroke-width="0.08" text-anchor="end">1.39</text>
<line x1="27" y1="204.5" x2="28.6" y2="204.5" stroke="#555" stroke-width="0.7"/>
<line x1="161.4" y1="204.5" x2="163" y2="204.5" stroke="#555" stroke-width="0.7"/>
<text transform="translate(25.6,207.5) scale(0.9,1)" font-size="7.6" fill="#4a4a4a" stroke="#4a4a4a" stroke-width="0.08" text-anchor="end">1.41</text>
<line x1="39.36" y1="340.2" x2="39.36" y2="338.6" stroke="#555" stroke-width="0.7"/>
<line x1="39.36" y1="204.5" x2="39.36" y2="206.1" stroke="#555" stroke-width="0.7"/>
<line x1="150.64" y1="340.2" x2="150.64" y2="338.6" stroke="#555" stroke-width="0.7"/>
<line x1="150.64" y1="204.5" x2="150.64" y2="206.1" stroke="#555" stroke-width="0.7"/>
<text transform="translate(39.36,348.9) scale(0.93,1)" font-size="7.4" fill="#4a4a4a" stroke="#4a4a4a" stroke-width="0.08" text-anchor="middle">Q1-1990</text>
<text transform="translate(150.64,348.9) scale(0.93,1)" font-size="7.4" fill="#4a4a4a" stroke="#4a4a4a" stroke-width="0.08" text-anchor="middle">Q2-1992</text>
<text transform="translate(95,357.4) scale(0.96,1)" font-size="7.9" fill="#444444" stroke="#444444" stroke-width="0.06" text-anchor="middle">Year</text>
<text transform="translate(96,200.8) scale(0.893,1)" font-size="11.3" fill="#262626" stroke="#262626" stroke-width="0.15" text-anchor="middle" font-style="italic">Recession 1990-91: c</text>
<text transform="translate(10.5,272.35) rotate(-90)" font-size="7.4" fill="#444444" stroke="#444444" stroke-width="0.06" text-anchor="middle">10,000 of chained 2012 dollars</text>
<rect x="260.09" y="204.5" width="37.09" height="135.7" fill="#fad1c2"/>
<clipPath id="p11i"><rect x="260.09" y="0" width="37.09" height="550"/></clipPath>
<clipPath id="p11o"><rect x="0" y="0" width="260.09" height="550"/><rect x="297.18" y="0" width="68.82" height="550"/></clipPath>
<g clip-path="url(#p11o)">
<polyline points="247.73,303 260.09,289.7 272.45,275 284.82,260.8" fill="none" stroke="#c6c6c6" stroke-width="0.7"/>
<circle cx="247.73" cy="303" r="1.3" fill="#bcbcbc"/>
<circle cx="260.09" cy="289.7" r="1.3" fill="#bcbcbc"/>
<circle cx="272.45" cy="275" r="1.3" fill="#bcbcbc"/>
<circle cx="284.82" cy="260.8" r="1.3" fill="#bcbcbc"/>
<polyline points="260.09,300 272.45,298 284.82,291.7 297.18,282.5 309.55,271.7" fill="none" stroke="#c6c6c6" stroke-width="0.7"/>
<circle cx="260.09" cy="300" r="1.3" fill="#bcbcbc"/>
<circle cx="272.45" cy="298" r="1.3" fill="#bcbcbc"/>
<circle cx="284.82" cy="291.7" r="1.3" fill="#bcbcbc"/>
<circle cx="297.18" cy="282.5" r="1.3" fill="#bcbcbc"/>
<circle cx="309.55" cy="271.7" r="1.3" fill="#bcbcbc"/>
<polyline points="297.18,283.2 309.55,272 321.91,262.3 334.27,250 346.64,233.6" fill="none" stroke="#c6c6c6" stroke-width="0.7"/>
<circle cx="297.18" cy="283.2" r="1.3" fill="#bcbcbc"/>
<circle cx="309.55" cy="272" r="1.3" fill="#bcbcbc"/>
<circle cx="321.91" cy="262.3" r="1.3" fill="#bcbcbc"/>
<circle cx="334.27" cy="250" r="1.3" fill="#bcbcbc"/>
<circle cx="346.64" cy="233.6" r="1.3" fill="#bcbcbc"/>
<polyline points="235.36,324.2 247.73,308.3 260.09,300.8 272.45,294.2" fill="none" stroke="#4864c8" stroke-width="0.75"/>
<circle cx="235.36" cy="324.2" r="1.45" fill="#2f4fba"/>
<circle cx="247.73" cy="308.3" r="1.45" fill="#2f4fba"/>
<circle cx="260.09" cy="300.8" r="1.45" fill="#2f4fba"/>
<circle cx="272.45" cy="294.2" r="1.45" fill="#2f4fba"/>
<polyline points="247.73,304.2 260.09,296.7 272.45,285.8 284.82,278" fill="none" stroke="#4864c8" stroke-width="0.75"/>
<circle cx="247.73" cy="304.2" r="1.45" fill="#2f4fba"/>
<circle cx="260.09" cy="296.7" r="1.45" fill="#2f4fba"/>
<circle cx="272.45" cy="285.8" r="1.45" fill="#2f4fba"/>
<circle cx="284.82" cy="278" r="1.45" fill="#2f4fba"/>
<polyline points="260.09,312 272.45,301.7 284.82,301.7 297.18,295" fill="none" stroke="#4864c8" stroke-width="0.75"/>
<circle cx="260.09" cy="312" r="1.45" fill="#2f4fba"/>
<circle cx="272.45" cy="301.7" r="1.45" fill="#2f4fba"/>
<circle cx="284.82" cy="301.7" r="1.45" fill="#2f4fba"/>
<circle cx="297.18" cy="295" r="1.45" fill="#2f4fba"/>
<polyline points="284.82,295.8 297.18,286.7 309.55,272.1 321.91,274.6" fill="none" stroke="#4864c8" stroke-width="0.75"/>
<circle cx="284.82" cy="295.8" r="1.45" fill="#2f4fba"/>
<circle cx="297.18" cy="286.7" r="1.45" fill="#2f4fba"/>
<circle cx="309.55" cy="272.1" r="1.45" fill="#2f4fba"/>
<circle cx="321.91" cy="274.6" r="1.45" fill="#2f4fba"/>
<polyline points="297.18,294.9 309.55,285.7 321.91,274 334.27,266.6" fill="none" stroke="#4864c8" stroke-width="0.75"/>
<circle cx="297.18" cy="294.9" r="1.45" fill="#2f4fba"/>
<circle cx="309.55" cy="285.7" r="1.45" fill="#2f4fba"/>
<circle cx="321.91" cy="274" r="1.45" fill="#2f4fba"/>
<circle cx="334.27" cy="266.6" r="1.45" fill="#2f4fba"/>
<polyline points="309.55,278 321.91,270 334.27,256.8 346.64,248" fill="none" stroke="#4864c8" stroke-width="0.75"/>
<circle cx="309.55" cy="278" r="1.45" fill="#2f4fba"/>
<circle cx="321.91" cy="270" r="1.45" fill="#2f4fba"/>
<circle cx="334.27" cy="256.8" r="1.45" fill="#2f4fba"/>
<circle cx="346.64" cy="248" r="1.45" fill="#2f4fba"/>
</g>
<g clip-path="url(#p11i)">
<polyline points="247.73,303 260.09,289.7 272.45,275 284.82,260.8" fill="none" stroke="#cdbcb8" stroke-width="0.7"/>
<circle cx="247.73" cy="303" r="1.3" fill="#c4b4b0"/>
<circle cx="260.09" cy="289.7" r="1.3" fill="#c4b4b0"/>
<circle cx="272.45" cy="275" r="1.3" fill="#c4b4b0"/>
<circle cx="284.82" cy="260.8" r="1.3" fill="#c4b4b0"/>
<polyline points="260.09,300 272.45,298 284.82,291.7 297.18,282.5 309.55,271.7" fill="none" stroke="#cdbcb8" stroke-width="0.7"/>
<circle cx="260.09" cy="300" r="1.3" fill="#c4b4b0"/>
<circle cx="272.45" cy="298" r="1.3" fill="#c4b4b0"/>
<circle cx="284.82" cy="291.7" r="1.3" fill="#c4b4b0"/>
<circle cx="297.18" cy="282.5" r="1.3" fill="#c4b4b0"/>
<circle cx="309.55" cy="271.7" r="1.3" fill="#c4b4b0"/>
<polyline points="297.18,283.2 309.55,272 321.91,262.3 334.27,250 346.64,233.6" fill="none" stroke="#cdbcb8" stroke-width="0.7"/>
<circle cx="297.18" cy="283.2" r="1.3" fill="#c4b4b0"/>
<circle cx="309.55" cy="272" r="1.3" fill="#c4b4b0"/>
<circle cx="321.91" cy="262.3" r="1.3" fill="#c4b4b0"/>
<circle cx="334.27" cy="250" r="1.3" fill="#c4b4b0"/>
<circle cx="346.64" cy="233.6" r="1.3" fill="#c4b4b0"/>
<polyline points="235.36,324.2 247.73,308.3 260.09,300.8 272.45,294.2" fill="none" stroke="#8468b8" stroke-width="0.75"/>
<circle cx="235.36" cy="324.2" r="1.45" fill="#6248a8"/>
<circle cx="247.73" cy="308.3" r="1.45" fill="#6248a8"/>
<circle cx="260.09" cy="300.8" r="1.45" fill="#6248a8"/>
<circle cx="272.45" cy="294.2" r="1.45" fill="#6248a8"/>
<polyline points="247.73,304.2 260.09,296.7 272.45,285.8 284.82,278" fill="none" stroke="#8468b8" stroke-width="0.75"/>
<circle cx="247.73" cy="304.2" r="1.45" fill="#6248a8"/>
<circle cx="260.09" cy="296.7" r="1.45" fill="#6248a8"/>
<circle cx="272.45" cy="285.8" r="1.45" fill="#6248a8"/>
<circle cx="284.82" cy="278" r="1.45" fill="#6248a8"/>
<polyline points="260.09,312 272.45,301.7 284.82,301.7 297.18,295" fill="none" stroke="#8468b8" stroke-width="0.75"/>
<circle cx="260.09" cy="312" r="1.45" fill="#6248a8"/>
<circle cx="272.45" cy="301.7" r="1.45" fill="#6248a8"/>
<circle cx="284.82" cy="301.7" r="1.45" fill="#6248a8"/>
<circle cx="297.18" cy="295" r="1.45" fill="#6248a8"/>
<polyline points="284.82,295.8 297.18,286.7 309.55,272.1 321.91,274.6" fill="none" stroke="#8468b8" stroke-width="0.75"/>
<circle cx="284.82" cy="295.8" r="1.45" fill="#6248a8"/>
<circle cx="297.18" cy="286.7" r="1.45" fill="#6248a8"/>
<circle cx="309.55" cy="272.1" r="1.45" fill="#6248a8"/>
<circle cx="321.91" cy="274.6" r="1.45" fill="#6248a8"/>
<polyline points="297.18,294.9 309.55,285.7 321.91,274 334.27,266.6" fill="none" stroke="#8468b8" stroke-width="0.75"/>
<circle cx="297.18" cy="294.9" r="1.45" fill="#6248a8"/>
<circle cx="309.55" cy="285.7" r="1.45" fill="#6248a8"/>
<circle cx="321.91" cy="274" r="1.45" fill="#6248a8"/>
<circle cx="334.27" cy="266.6" r="1.45" fill="#6248a8"/>
<polyline points="309.55,278 321.91,270 334.27,256.8 346.64,248" fill="none" stroke="#8468b8" stroke-width="0.75"/>
<circle cx="309.55" cy="278" r="1.45" fill="#6248a8"/>
<circle cx="321.91" cy="270" r="1.45" fill="#6248a8"/>
<circle cx="334.27" cy="256.8" r="1.45" fill="#6248a8"/>
<circle cx="346.64" cy="248" r="1.45" fill="#6248a8"/>
</g>
<line x1="232.6" y1="216.6" x2="261.4" y2="216.6" stroke="#2a2a2a" stroke-width="1.8"/>
<line x1="232.6" y1="223.3" x2="261.4" y2="223.3" stroke="#4864c8" stroke-width="0.75"/>
<circle cx="247" cy="223.3" r="1.4" fill="#2f4fba"/>
<line x1="232.6" y1="229.9" x2="261.4" y2="229.9" stroke="#c6c6c6" stroke-width="0.7"/>
<circle cx="247" cy="229.9" r="1.25" fill="#bcbcbc"/>
<text transform="translate(263.5,219.2) scale(0.95,1)" font-size="5.8" fill="#383838" stroke="#383838" stroke-width="0.1" text-anchor="start">Data</text>
<text transform="translate(263.5,225.9) scale(0.95,1)" font-size="5.8" fill="#383838" stroke="#383838" stroke-width="0.1" text-anchor="start">VAR-ECM</text>
<text transform="translate(263.5,232.5) scale(0.95,1)" font-size="5.8" fill="#383838" stroke="#383838" stroke-width="0.1" text-anchor="start">Benchmark VAR</text>
<polyline points="235.36,320.2 247.73,304.2 260.09,305 272.45,301.7 284.82,299.2 297.18,288.3 309.55,277 321.91,267.8 334.27,261.7 346.64,243.2" fill="none" stroke="#1e1e1e" stroke-width="1.5" stroke-linejoin="round"/>
<line x1="223" y1="203.9" x2="223" y2="341" stroke="#b4b4b4" stroke-width="1.4"/>
<line x1="359" y1="203.9" x2="359" y2="341" stroke="#b4b4b4" stroke-width="1.4"/>
<line x1="222.4" y1="204.5" x2="359.6" y2="204.5" stroke="#9a9a9a" stroke-width="1.0"/>
<line x1="222.4" y1="340.2" x2="359.6" y2="340.2" stroke="#787878" stroke-width="1.0"/>
<line x1="223" y1="340.2" x2="224.6" y2="340.2" stroke="#555" stroke-width="0.7"/>
<line x1="357.4" y1="340.2" x2="359" y2="340.2" stroke="#555" stroke-width="0.7"/>
<text transform="translate(221.6,343.2) scale(0.9,1)" font-size="7.6" fill="#4a4a4a" stroke="#4a4a4a" stroke-width="0.08" text-anchor="end">1.65</text>
<line x1="223" y1="294.97" x2="224.6" y2="294.97" stroke="#555" stroke-width="0.7"/>
<line x1="357.4" y1="294.97" x2="359" y2="294.97" stroke="#555" stroke-width="0.7"/>
<text transform="translate(221.6,297.97) scale(0.9,1)" font-size="7.6" fill="#4a4a4a" stroke="#4a4a4a" stroke-width="0.08" text-anchor="end">1.68</text>
<line x1="223" y1="249.73" x2="224.6" y2="249.73" stroke="#555" stroke-width="0.7"/>
<line x1="357.4" y1="249.73" x2="359" y2="249.73" stroke="#555" stroke-width="0.7"/>
<text transform="translate(221.6,252.73) scale(0.9,1)" font-size="7.6" fill="#4a4a4a" stroke="#4a4a4a" stroke-width="0.08" text-anchor="end">1.71</text>
<line x1="223" y1="204.5" x2="224.6" y2="204.5" stroke="#555" stroke-width="0.7"/>
<line x1="357.4" y1="204.5" x2="359" y2="204.5" stroke="#555" stroke-width="0.7"/>
<text transform="translate(221.6,207.5) scale(0.9,1)" font-size="7.6" fill="#4a4a4a" stroke="#4a4a4a" stroke-width="0.08" text-anchor="end">1.74</text>
<line x1="235.36" y1="340.2" x2="235.36" y2="338.6" stroke="#555" stroke-width="0.7"/>
<line x1="235.36" y1="204.5" x2="235.36" y2="206.1" stroke="#555" stroke-width="0.7"/>
<line x1="346.64" y1="340.2" x2="346.64" y2="338.6" stroke="#555" stroke-width="0.7"/>
<line x1="346.64" y1="204.5" x2="346.64" y2="206.1" stroke="#555" stroke-width="0.7"/>
<text transform="translate(235.36,348.9) scale(0.93,1)" font-size="7.4" fill="#4a4a4a" stroke="#4a4a4a" stroke-width="0.08" text-anchor="middle">Q3-2000</text>
<text transform="translate(346.64,348.9) scale(0.93,1)" font-size="7.4" fill="#4a4a4a" stroke="#4a4a4a" stroke-width="0.08" text-anchor="middle">Q4-2002</text>
<text transform="translate(291,357.4) scale(0.96,1)" font-size="7.9" fill="#444444" stroke="#444444" stroke-width="0.06" text-anchor="middle">Year</text>
<text transform="translate(292,200.8) scale(0.893,1)" font-size="11.3" fill="#262626" stroke="#262626" stroke-width="0.15" text-anchor="middle" font-style="italic">Recession 2001: c</text>
<text transform="translate(206.5,272.35) rotate(-90)" font-size="7.4" fill="#444444" stroke="#444444" stroke-width="0.06" text-anchor="middle">10,000 of chained 2012 dollars</text>
<rect x="64.09" y="392.5" width="24.73" height="135.7" fill="#fad1c2"/>
<clipPath id="p02i"><rect x="64.09" y="0" width="24.73" height="550"/></clipPath>
<clipPath id="p02o"><rect x="0" y="0" width="64.09" height="550"/><rect x="88.82" y="0" width="277.18" height="550"/></clipPath>
<g clip-path="url(#p02o)">
<polyline points="39.36,426 51.73,437.3 64.09,438.3 76.45,440.7 88.82,441.7" fill="none" stroke="#c6c6c6" stroke-width="0.7"/>
<circle cx="39.36" cy="426" r="1.3" fill="#bcbcbc"/>
<circle cx="51.73" cy="437.3" r="1.3" fill="#bcbcbc"/>
<circle cx="64.09" cy="438.3" r="1.3" fill="#bcbcbc"/>
<circle cx="76.45" cy="440.7" r="1.3" fill="#bcbcbc"/>
<circle cx="88.82" cy="441.7" r="1.3" fill="#bcbcbc"/>
<polyline points="64.09,443.3 76.45,448.3 88.82,454 101.18,455" fill="none" stroke="#c6c6c6" stroke-width="0.7"/>
<circle cx="64.09" cy="443.3" r="1.3" fill="#bcbcbc"/>
<circle cx="76.45" cy="448.3" r="1.3" fill="#bcbcbc"/>
<circle cx="88.82" cy="454" r="1.3" fill="#bcbcbc"/>
<circle cx="101.18" cy="455" r="1.3" fill="#bcbcbc"/>
<polyline points="88.82,473.3 101.18,488.3 113.55,499.3 125.91,507.3" fill="none" stroke="#c6c6c6" stroke-width="0.7"/>
<circle cx="88.82" cy="473.3" r="1.3" fill="#bcbcbc"/>
<circle cx="101.18" cy="488.3" r="1.3" fill="#bcbcbc"/>
<circle cx="113.55" cy="499.3" r="1.3" fill="#bcbcbc"/>
<circle cx="125.91" cy="507.3" r="1.3" fill="#bcbcbc"/>
<polyline points="101.18,485 113.55,487.3 125.91,489.3 138.27,488.3" fill="none" stroke="#c6c6c6" stroke-width="0.7"/>
<circle cx="101.18" cy="485" r="1.3" fill="#bcbcbc"/>
<circle cx="113.55" cy="487.3" r="1.3" fill="#bcbcbc"/>
<circle cx="125.91" cy="489.3" r="1.3" fill="#bcbcbc"/>
<circle cx="138.27" cy="488.3" r="1.3" fill="#bcbcbc"/>
<polyline points="39.36,430.8 51.73,435.3 64.09,439.7 76.45,443 88.82,444.2" fill="none" stroke="#4864c8" stroke-width="0.75"/>
<circle cx="39.36" cy="430.8" r="1.45" fill="#2f4fba"/>
<circle cx="51.73" cy="435.3" r="1.45" fill="#2f4fba"/>
<circle cx="64.09" cy="439.7" r="1.45" fill="#2f4fba"/>
<circle cx="76.45" cy="443" r="1.45" fill="#2f4fba"/>
<circle cx="88.82" cy="444.2" r="1.45" fill="#2f4fba"/>
<polyline points="64.09,445.3 76.45,454.2 88.82,455.8 101.18,456.7" fill="none" stroke="#4864c8" stroke-width="0.75"/>
<circle cx="64.09" cy="445.3" r="1.45" fill="#2f4fba"/>
<circle cx="76.45" cy="454.2" r="1.45" fill="#2f4fba"/>
<circle cx="88.82" cy="455.8" r="1.45" fill="#2f4fba"/>
<circle cx="101.18" cy="456.7" r="1.45" fill="#2f4fba"/>
<polyline points="88.82,468.3 101.18,472.7 113.55,479" fill="none" stroke="#4864c8" stroke-width="0.75"/>
<circle cx="88.82" cy="468.3" r="1.45" fill="#2f4fba"/>
<circle cx="101.18" cy="472.7" r="1.45" fill="#2f4fba"/>
<circle cx="113.55" cy="479" r="1.45" fill="#2f4fba"/>
<polyline points="88.82,472 101.18,480 113.55,487.3 125.91,490.7 138.27,490.7" fill="none" stroke="#4864c8" stroke-width="0.75"/>
<circle cx="88.82" cy="472" r="1.45" fill="#2f4fba"/>
<circle cx="101.18" cy="480" r="1.45" fill="#2f4fba"/>
<circle cx="113.55" cy="487.3" r="1.45" fill="#2f4fba"/>
<circle cx="125.91" cy="490.7" r="1.45" fill="#2f4fba"/>
<circle cx="138.27" cy="490.7" r="1.45" fill="#2f4fba"/>
</g>
<g clip-path="url(#p02i)">
<polyline points="39.36,426 51.73,437.3 64.09,438.3 76.45,440.7 88.82,441.7" fill="none" stroke="#cdbcb8" stroke-width="0.7"/>
<circle cx="39.36" cy="426" r="1.3" fill="#c4b4b0"/>
<circle cx="51.73" cy="437.3" r="1.3" fill="#c4b4b0"/>
<circle cx="64.09" cy="438.3" r="1.3" fill="#c4b4b0"/>
<circle cx="76.45" cy="440.7" r="1.3" fill="#c4b4b0"/>
<circle cx="88.82" cy="441.7" r="1.3" fill="#c4b4b0"/>
<polyline points="64.09,443.3 76.45,448.3 88.82,454 101.18,455" fill="none" stroke="#cdbcb8" stroke-width="0.7"/>
<circle cx="64.09" cy="443.3" r="1.3" fill="#c4b4b0"/>
<circle cx="76.45" cy="448.3" r="1.3" fill="#c4b4b0"/>
<circle cx="88.82" cy="454" r="1.3" fill="#c4b4b0"/>
<circle cx="101.18" cy="455" r="1.3" fill="#c4b4b0"/>
<polyline points="88.82,473.3 101.18,488.3 113.55,499.3 125.91,507.3" fill="none" stroke="#cdbcb8" stroke-width="0.7"/>
<circle cx="88.82" cy="473.3" r="1.3" fill="#c4b4b0"/>
<circle cx="101.18" cy="488.3" r="1.3" fill="#c4b4b0"/>
<circle cx="113.55" cy="499.3" r="1.3" fill="#c4b4b0"/>
<circle cx="125.91" cy="507.3" r="1.3" fill="#c4b4b0"/>
<polyline points="101.18,485 113.55,487.3 125.91,489.3 138.27,488.3" fill="none" stroke="#cdbcb8" stroke-width="0.7"/>
<circle cx="101.18" cy="485" r="1.3" fill="#c4b4b0"/>
<circle cx="113.55" cy="487.3" r="1.3" fill="#c4b4b0"/>
<circle cx="125.91" cy="489.3" r="1.3" fill="#c4b4b0"/>
<circle cx="138.27" cy="488.3" r="1.3" fill="#c4b4b0"/>
<polyline points="39.36,430.8 51.73,435.3 64.09,439.7 76.45,443 88.82,444.2" fill="none" stroke="#8468b8" stroke-width="0.75"/>
<circle cx="39.36" cy="430.8" r="1.45" fill="#6248a8"/>
<circle cx="51.73" cy="435.3" r="1.45" fill="#6248a8"/>
<circle cx="64.09" cy="439.7" r="1.45" fill="#6248a8"/>
<circle cx="76.45" cy="443" r="1.45" fill="#6248a8"/>
<circle cx="88.82" cy="444.2" r="1.45" fill="#6248a8"/>
<polyline points="64.09,445.3 76.45,454.2 88.82,455.8 101.18,456.7" fill="none" stroke="#8468b8" stroke-width="0.75"/>
<circle cx="64.09" cy="445.3" r="1.45" fill="#6248a8"/>
<circle cx="76.45" cy="454.2" r="1.45" fill="#6248a8"/>
<circle cx="88.82" cy="455.8" r="1.45" fill="#6248a8"/>
<circle cx="101.18" cy="456.7" r="1.45" fill="#6248a8"/>
<polyline points="88.82,468.3 101.18,472.7 113.55,479" fill="none" stroke="#8468b8" stroke-width="0.75"/>
<circle cx="88.82" cy="468.3" r="1.45" fill="#6248a8"/>
<circle cx="101.18" cy="472.7" r="1.45" fill="#6248a8"/>
<circle cx="113.55" cy="479" r="1.45" fill="#6248a8"/>
<polyline points="88.82,472 101.18,480 113.55,487.3 125.91,490.7 138.27,490.7" fill="none" stroke="#8468b8" stroke-width="0.75"/>
<circle cx="88.82" cy="472" r="1.45" fill="#6248a8"/>
<circle cx="101.18" cy="480" r="1.45" fill="#6248a8"/>
<circle cx="113.55" cy="487.3" r="1.45" fill="#6248a8"/>
<circle cx="125.91" cy="490.7" r="1.45" fill="#6248a8"/>
<circle cx="138.27" cy="490.7" r="1.45" fill="#6248a8"/>
</g>
<line x1="36.6" y1="404.6" x2="65.4" y2="404.6" stroke="#2a2a2a" stroke-width="1.8"/>
<line x1="36.6" y1="411.3" x2="65.4" y2="411.3" stroke="#4864c8" stroke-width="0.75"/>
<circle cx="51" cy="411.3" r="1.4" fill="#2f4fba"/>
<line x1="36.6" y1="417.9" x2="65.4" y2="417.9" stroke="#c6c6c6" stroke-width="0.7"/>
<circle cx="51" cy="417.9" r="1.25" fill="#bcbcbc"/>
<text transform="translate(67.5,407.2) scale(0.95,1)" font-size="5.8" fill="#383838" stroke="#383838" stroke-width="0.1" text-anchor="start">Data</text>
<text transform="translate(67.5,413.9) scale(0.95,1)" font-size="5.8" fill="#383838" stroke="#383838" stroke-width="0.1" text-anchor="start">VAR-ECM</text>
<text transform="translate(67.5,420.5) scale(0.95,1)" font-size="5.8" fill="#383838" stroke="#383838" stroke-width="0.1" text-anchor="start">Benchmark VAR</text>
<polyline points="39.36,430.2 51.73,435.8 64.09,445.8 76.45,457.5 88.82,471.7 101.18,484 113.55,488.3 125.91,494 138.27,508.3" fill="none" stroke="#1e1e1e" stroke-width="1.5" stroke-linejoin="round"/>
<line x1="27" y1="391.9" x2="27" y2="529" stroke="#b4b4b4" stroke-width="1.4"/>
<line x1="163" y1="391.9" x2="163" y2="529" stroke="#b4b4b4" stroke-width="1.4"/>
<line x1="26.4" y1="392.5" x2="163.6" y2="392.5" stroke="#9a9a9a" stroke-width="1.0"/>
<line x1="26.4" y1="528.2" x2="163.6" y2="528.2" stroke="#787878" stroke-width="1.0"/>
<line x1="27" y1="528.2" x2="28.6" y2="528.2" stroke="#555" stroke-width="0.7"/>
<line x1="161.4" y1="528.2" x2="163" y2="528.2" stroke="#555" stroke-width="0.7"/>
<text transform="translate(25.6,531.2) scale(0.9,1)" font-size="7.6" fill="#4a4a4a" stroke="#4a4a4a" stroke-width="0.08" text-anchor="end">33.5</text>
<line x1="27" y1="507.8" x2="28.6" y2="507.8" stroke="#555" stroke-width="0.7"/>
<line x1="161.4" y1="507.8" x2="163" y2="507.8" stroke="#555" stroke-width="0.7"/>
<text transform="translate(25.6,510.8) scale(0.9,1)" font-size="7.6" fill="#4a4a4a" stroke="#4a4a4a" stroke-width="0.08" text-anchor="end">34</text>
<line x1="27" y1="487.4" x2="28.6" y2="487.4" stroke="#555" stroke-width="0.7"/>
<line x1="161.4" y1="487.4" x2="163" y2="487.4" stroke="#555" stroke-width="0.7"/>
<text transform="translate(25.6,490.4) scale(0.9,1)" font-size="7.6" fill="#4a4a4a" stroke="#4a4a4a" stroke-width="0.08" text-anchor="end">34.5</text>
<line x1="27" y1="467" x2="28.6" y2="467" stroke="#555" stroke-width="0.7"/>
<line x1="161.4" y1="467" x2="163" y2="467" stroke="#555" stroke-width="0.7"/>
<text transform="translate(25.6,470) scale(0.9,1)" font-size="7.6" fill="#4a4a4a" stroke="#4a4a4a" stroke-width="0.08" text-anchor="end">35</text>
<line x1="27" y1="446.6" x2="28.6" y2="446.6" stroke="#555" stroke-width="0.7"/>
<line x1="161.4" y1="446.6" x2="163" y2="446.6" stroke="#555" stroke-width="0.7"/>
<text transform="translate(25.6,449.6) scale(0.9,1)" font-size="7.6" fill="#4a4a4a" stroke="#4a4a4a" stroke-width="0.08" text-anchor="end">35.5</text>
<line x1="27" y1="426.2" x2="28.6" y2="426.2" stroke="#555" stroke-width="0.7"/>
<line x1="161.4" y1="426.2" x2="163" y2="426.2" stroke="#555" stroke-width="0.7"/>
<text transform="translate(25.6,429.2) scale(0.9,1)" font-size="7.6" fill="#4a4a4a" stroke="#4a4a4a" stroke-width="0.08" text-anchor="end">36</text>
<line x1="27" y1="405.8" x2="28.6" y2="405.8" stroke="#555" stroke-width="0.7"/>
<line x1="161.4" y1="405.8" x2="163" y2="405.8" stroke="#555" stroke-width="0.7"/>
<text transform="translate(25.6,408.8) scale(0.9,1)" font-size="7.6" fill="#4a4a4a" stroke="#4a4a4a" stroke-width="0.08" text-anchor="end">36.5</text>
<line x1="39.36" y1="528.2" x2="39.36" y2="526.6" stroke="#555" stroke-width="0.7"/>
<line x1="39.36" y1="392.5" x2="39.36" y2="394.1" stroke="#555" stroke-width="0.7"/>
<line x1="150.64" y1="528.2" x2="150.64" y2="526.6" stroke="#555" stroke-width="0.7"/>
<line x1="150.64" y1="392.5" x2="150.64" y2="394.1" stroke="#555" stroke-width="0.7"/>
<text transform="translate(39.36,536.9) scale(0.93,1)" font-size="7.4" fill="#4a4a4a" stroke="#4a4a4a" stroke-width="0.08" text-anchor="middle">Q1-1990</text>
<text transform="translate(150.64,536.9) scale(0.93,1)" font-size="7.4" fill="#4a4a4a" stroke="#4a4a4a" stroke-width="0.08" text-anchor="middle">Q2-1992</text>
<text transform="translate(95,545.4) scale(0.96,1)" font-size="7.9" fill="#444444" stroke="#444444" stroke-width="0.06" text-anchor="middle">Year</text>
<text transform="translate(96,388.8) scale(0.893,1)" font-size="11.3" fill="#262626" stroke="#262626" stroke-width="0.15" text-anchor="middle" font-style="italic">Recession 1990-91: n</text>
<text transform="translate(10.5,460.35) rotate(-90)" font-size="7.4" fill="#444444" stroke="#444444" stroke-width="0.06" text-anchor="middle">Percentage</text>
<rect x="260.09" y="392.5" width="37.09" height="135.7" fill="#fad1c2"/>
<clipPath id="p12i"><rect x="260.09" y="0" width="37.09" height="550"/></clipPath>
<clipPath id="p12o"><rect x="0" y="0" width="260.09" height="550"/><rect x="297.18" y="0" width="68.82" height="550"/></clipPath>
<g clip-path="url(#p12o)">
<polyline points="235.36,425.7 247.73,433 260.09,432.5 272.45,430.3" fill="none" stroke="#c6c6c6" stroke-width="0.7"/>
<circle cx="235.36" cy="425.7" r="1.3" fill="#bcbcbc"/>
<circle cx="247.73" cy="433" r="1.3" fill="#bcbcbc"/>
<circle cx="260.09" cy="432.5" r="1.3" fill="#bcbcbc"/>
<circle cx="272.45" cy="430.3" r="1.3" fill="#bcbcbc"/>
<polyline points="247.73,433 260.09,447 272.45,449.7 284.82,448" fill="none" stroke="#c6c6c6" stroke-width="0.7"/>
<circle cx="247.73" cy="433" r="1.3" fill="#bcbcbc"/>
<circle cx="260.09" cy="447" r="1.3" fill="#bcbcbc"/>
<circle cx="272.45" cy="449.7" r="1.3" fill="#bcbcbc"/>
<circle cx="284.82" cy="448" r="1.3" fill="#bcbcbc"/>
<polyline points="272.45,455 284.82,464 297.18,472" fill="none" stroke="#c6c6c6" stroke-width="0.7"/>
<circle cx="272.45" cy="455" r="1.3" fill="#bcbcbc"/>
<circle cx="284.82" cy="464" r="1.3" fill="#bcbcbc"/>
<circle cx="297.18" cy="472" r="1.3" fill="#bcbcbc"/>
<polyline points="297.18,480 309.55,495 321.91,500 334.27,503.7" fill="none" stroke="#c6c6c6" stroke-width="0.7"/>
<circle cx="297.18" cy="480" r="1.3" fill="#bcbcbc"/>
<circle cx="309.55" cy="495" r="1.3" fill="#bcbcbc"/>
<circle cx="321.91" cy="500" r="1.3" fill="#bcbcbc"/>
<circle cx="334.27" cy="503.7" r="1.3" fill="#bcbcbc"/>
<polyline points="297.18,478 309.55,485.8 321.91,487.5" fill="none" stroke="#c6c6c6" stroke-width="0.7"/>
<circle cx="297.18" cy="478" r="1.3" fill="#bcbcbc"/>
<circle cx="309.55" cy="485.8" r="1.3" fill="#bcbcbc"/>
<circle cx="321.91" cy="487.5" r="1.3" fill="#bcbcbc"/>
<polyline points="321.91,500.8 334.27,500 346.64,498.7" fill="none" stroke="#c6c6c6" stroke-width="0.7"/>
<circle cx="321.91" cy="500.8" r="1.3" fill="#bcbcbc"/>
<circle cx="334.27" cy="500" r="1.3" fill="#bcbcbc"/>
<circle cx="346.64" cy="498.7" r="1.3" fill="#bcbcbc"/>
<polyline points="235.36,434.1 247.73,438.9 260.09,440.8 272.45,443.2" fill="none" stroke="#4864c8" stroke-width="0.75"/>
<circle cx="235.36" cy="434.1" r="1.45" fill="#2f4fba"/>
<circle cx="247.73" cy="438.9" r="1.45" fill="#2f4fba"/>
<circle cx="260.09" cy="440.8" r="1.45" fill="#2f4fba"/>
<circle cx="272.45" cy="443.2" r="1.45" fill="#2f4fba"/>
<polyline points="235.36,437 247.73,447 260.09,452 272.45,454.6" fill="none" stroke="#4864c8" stroke-width="0.75"/>
<circle cx="235.36" cy="437" r="1.45" fill="#2f4fba"/>
<circle cx="247.73" cy="447" r="1.45" fill="#2f4fba"/>
<circle cx="260.09" cy="452" r="1.45" fill="#2f4fba"/>
<circle cx="272.45" cy="454.6" r="1.45" fill="#2f4fba"/>
<polyline points="260.09,445 272.45,454.2 284.82,455.8" fill="none" stroke="#4864c8" stroke-width="0.75"/>
<circle cx="260.09" cy="445" r="1.45" fill="#2f4fba"/>
<circle cx="272.45" cy="454.2" r="1.45" fill="#2f4fba"/>
<circle cx="284.82" cy="455.8" r="1.45" fill="#2f4fba"/>
<polyline points="272.45,454.2 284.82,460.5 297.18,468.3" fill="none" stroke="#4864c8" stroke-width="0.75"/>
<circle cx="272.45" cy="454.2" r="1.45" fill="#2f4fba"/>
<circle cx="284.82" cy="460.5" r="1.45" fill="#2f4fba"/>
<circle cx="297.18" cy="468.3" r="1.45" fill="#2f4fba"/>
<polyline points="272.45,464.2 284.82,470.8 297.18,478.3 309.55,482" fill="none" stroke="#4864c8" stroke-width="0.75"/>
<circle cx="272.45" cy="464.2" r="1.45" fill="#2f4fba"/>
<circle cx="284.82" cy="470.8" r="1.45" fill="#2f4fba"/>
<circle cx="297.18" cy="478.3" r="1.45" fill="#2f4fba"/>
<circle cx="309.55" cy="482" r="1.45" fill="#2f4fba"/>
<polyline points="297.18,481.7 309.55,485.8 321.91,489.2" fill="none" stroke="#4864c8" stroke-width="0.75"/>
<circle cx="297.18" cy="481.7" r="1.45" fill="#2f4fba"/>
<circle cx="309.55" cy="485.8" r="1.45" fill="#2f4fba"/>
<circle cx="321.91" cy="489.2" r="1.45" fill="#2f4fba"/>
<polyline points="309.55,501.7 321.91,502.5 334.27,505 346.64,505.8" fill="none" stroke="#4864c8" stroke-width="0.75"/>
<circle cx="309.55" cy="501.7" r="1.45" fill="#2f4fba"/>
<circle cx="321.91" cy="502.5" r="1.45" fill="#2f4fba"/>
<circle cx="334.27" cy="505" r="1.45" fill="#2f4fba"/>
<circle cx="346.64" cy="505.8" r="1.45" fill="#2f4fba"/>
</g>
<g clip-path="url(#p12i)">
<polyline points="235.36,425.7 247.73,433 260.09,432.5 272.45,430.3" fill="none" stroke="#cdbcb8" stroke-width="0.7"/>
<circle cx="235.36" cy="425.7" r="1.3" fill="#c4b4b0"/>
<circle cx="247.73" cy="433" r="1.3" fill="#c4b4b0"/>
<circle cx="260.09" cy="432.5" r="1.3" fill="#c4b4b0"/>
<circle cx="272.45" cy="430.3" r="1.3" fill="#c4b4b0"/>
<polyline points="247.73,433 260.09,447 272.45,449.7 284.82,448" fill="none" stroke="#cdbcb8" stroke-width="0.7"/>
<circle cx="247.73" cy="433" r="1.3" fill="#c4b4b0"/>
<circle cx="260.09" cy="447" r="1.3" fill="#c4b4b0"/>
<circle cx="272.45" cy="449.7" r="1.3" fill="#c4b4b0"/>
<circle cx="284.82" cy="448" r="1.3" fill="#c4b4b0"/>
<polyline points="272.45,455 284.82,464 297.18,472" fill="none" stroke="#cdbcb8" stroke-width="0.7"/>
<circle cx="272.45" cy="455" r="1.3" fill="#c4b4b0"/>
<circle cx="284.82" cy="464" r="1.3" fill="#c4b4b0"/>
<circle cx="297.18" cy="472" r="1.3" fill="#c4b4b0"/>
<polyline points="297.18,480 309.55,495 321.91,500 334.27,503.7" fill="none" stroke="#cdbcb8" stroke-width="0.7"/>
<circle cx="297.18" cy="480" r="1.3" fill="#c4b4b0"/>
<circle cx="309.55" cy="495" r="1.3" fill="#c4b4b0"/>
<circle cx="321.91" cy="500" r="1.3" fill="#c4b4b0"/>
<circle cx="334.27" cy="503.7" r="1.3" fill="#c4b4b0"/>
<polyline points="297.18,478 309.55,485.8 321.91,487.5" fill="none" stroke="#cdbcb8" stroke-width="0.7"/>
<circle cx="297.18" cy="478" r="1.3" fill="#c4b4b0"/>
<circle cx="309.55" cy="485.8" r="1.3" fill="#c4b4b0"/>
<circle cx="321.91" cy="487.5" r="1.3" fill="#c4b4b0"/>
<polyline points="321.91,500.8 334.27,500 346.64,498.7" fill="none" stroke="#cdbcb8" stroke-width="0.7"/>
<circle cx="321.91" cy="500.8" r="1.3" fill="#c4b4b0"/>
<circle cx="334.27" cy="500" r="1.3" fill="#c4b4b0"/>
<circle cx="346.64" cy="498.7" r="1.3" fill="#c4b4b0"/>
<polyline points="235.36,434.1 247.73,438.9 260.09,440.8 272.45,443.2" fill="none" stroke="#8468b8" stroke-width="0.75"/>
<circle cx="235.36" cy="434.1" r="1.45" fill="#6248a8"/>
<circle cx="247.73" cy="438.9" r="1.45" fill="#6248a8"/>
<circle cx="260.09" cy="440.8" r="1.45" fill="#6248a8"/>
<circle cx="272.45" cy="443.2" r="1.45" fill="#6248a8"/>
<polyline points="235.36,437 247.73,447 260.09,452 272.45,454.6" fill="none" stroke="#8468b8" stroke-width="0.75"/>
<circle cx="235.36" cy="437" r="1.45" fill="#6248a8"/>
<circle cx="247.73" cy="447" r="1.45" fill="#6248a8"/>
<circle cx="260.09" cy="452" r="1.45" fill="#6248a8"/>
<circle cx="272.45" cy="454.6" r="1.45" fill="#6248a8"/>
<polyline points="260.09,445 272.45,454.2 284.82,455.8" fill="none" stroke="#8468b8" stroke-width="0.75"/>
<circle cx="260.09" cy="445" r="1.45" fill="#6248a8"/>
<circle cx="272.45" cy="454.2" r="1.45" fill="#6248a8"/>
<circle cx="284.82" cy="455.8" r="1.45" fill="#6248a8"/>
<polyline points="272.45,454.2 284.82,460.5 297.18,468.3" fill="none" stroke="#8468b8" stroke-width="0.75"/>
<circle cx="272.45" cy="454.2" r="1.45" fill="#6248a8"/>
<circle cx="284.82" cy="460.5" r="1.45" fill="#6248a8"/>
<circle cx="297.18" cy="468.3" r="1.45" fill="#6248a8"/>
<polyline points="272.45,464.2 284.82,470.8 297.18,478.3 309.55,482" fill="none" stroke="#8468b8" stroke-width="0.75"/>
<circle cx="272.45" cy="464.2" r="1.45" fill="#6248a8"/>
<circle cx="284.82" cy="470.8" r="1.45" fill="#6248a8"/>
<circle cx="297.18" cy="478.3" r="1.45" fill="#6248a8"/>
<circle cx="309.55" cy="482" r="1.45" fill="#6248a8"/>
<polyline points="297.18,481.7 309.55,485.8 321.91,489.2" fill="none" stroke="#8468b8" stroke-width="0.75"/>
<circle cx="297.18" cy="481.7" r="1.45" fill="#6248a8"/>
<circle cx="309.55" cy="485.8" r="1.45" fill="#6248a8"/>
<circle cx="321.91" cy="489.2" r="1.45" fill="#6248a8"/>
<polyline points="309.55,501.7 321.91,502.5 334.27,505 346.64,505.8" fill="none" stroke="#8468b8" stroke-width="0.75"/>
<circle cx="309.55" cy="501.7" r="1.45" fill="#6248a8"/>
<circle cx="321.91" cy="502.5" r="1.45" fill="#6248a8"/>
<circle cx="334.27" cy="505" r="1.45" fill="#6248a8"/>
<circle cx="346.64" cy="505.8" r="1.45" fill="#6248a8"/>
</g>
<line x1="232.6" y1="404.6" x2="261.4" y2="404.6" stroke="#2a2a2a" stroke-width="1.8"/>
<line x1="232.6" y1="411.3" x2="261.4" y2="411.3" stroke="#4864c8" stroke-width="0.75"/>
<circle cx="247" cy="411.3" r="1.4" fill="#2f4fba"/>
<line x1="232.6" y1="417.9" x2="261.4" y2="417.9" stroke="#c6c6c6" stroke-width="0.7"/>
<circle cx="247" cy="417.9" r="1.25" fill="#bcbcbc"/>
<text transform="translate(263.5,407.2) scale(0.95,1)" font-size="5.8" fill="#383838" stroke="#383838" stroke-width="0.1" text-anchor="start">Data</text>
<text transform="translate(263.5,413.9) scale(0.95,1)" font-size="5.8" fill="#383838" stroke="#383838" stroke-width="0.1" text-anchor="start">VAR-ECM</text>
<text transform="translate(263.5,420.5) scale(0.95,1)" font-size="5.8" fill="#383838" stroke="#383838" stroke-width="0.1" text-anchor="start">Benchmark VAR</text>
<polyline points="235.36,436.2 247.73,447.5 260.09,449.7 272.45,464.2 284.82,472.5 297.18,485 309.55,497.5 321.91,491.7 334.27,496.3 346.64,495.3" fill="none" stroke="#1e1e1e" stroke-width="1.5" stroke-linejoin="round"/>
<line x1="223" y1="391.9" x2="223" y2="529" stroke="#b4b4b4" stroke-width="1.4"/>
<line x1="359" y1="391.9" x2="359" y2="529" stroke="#b4b4b4" stroke-width="1.4"/>
<line x1="222.4" y1="392.5" x2="359.6" y2="392.5" stroke="#9a9a9a" stroke-width="1.0"/>
<line x1="222.4" y1="528.2" x2="359.6" y2="528.2" stroke="#787878" stroke-width="1.0"/>
<line x1="223" y1="528.2" x2="224.6" y2="528.2" stroke="#555" stroke-width="0.7"/>
<line x1="357.4" y1="528.2" x2="359" y2="528.2" stroke="#555" stroke-width="0.7"/>
<text transform="translate(221.6,531.2) scale(0.9,1)" font-size="7.6" fill="#4a4a4a" stroke="#4a4a4a" stroke-width="0.08" text-anchor="end">34.5</text>
<line x1="223" y1="482.97" x2="224.6" y2="482.97" stroke="#555" stroke-width="0.7"/>
<line x1="357.4" y1="482.97" x2="359" y2="482.97" stroke="#555" stroke-width="0.7"/>
<text transform="translate(221.6,485.97) scale(0.9,1)" font-size="7.6" fill="#4a4a4a" stroke="#4a4a4a" stroke-width="0.08" text-anchor="end">35.5</text>
<line x1="223" y1="437.73" x2="224.6" y2="437.73" stroke="#555" stroke-width="0.7"/>
<line x1="357.4" y1="437.73" x2="359" y2="437.73" stroke="#555" stroke-width="0.7"/>
<text transform="translate(221.6,440.73) scale(0.9,1)" font-size="7.6" fill="#4a4a4a" stroke="#4a4a4a" stroke-width="0.08" text-anchor="end">36.5</text>
<line x1="223" y1="392.5" x2="224.6" y2="392.5" stroke="#555" stroke-width="0.7"/>
<line x1="357.4" y1="392.5" x2="359" y2="392.5" stroke="#555" stroke-width="0.7"/>
<text transform="translate(221.6,395.5) scale(0.9,1)" font-size="7.6" fill="#4a4a4a" stroke="#4a4a4a" stroke-width="0.08" text-anchor="end">37.5</text>
<line x1="235.36" y1="528.2" x2="235.36" y2="526.6" stroke="#555" stroke-width="0.7"/>
<line x1="235.36" y1="392.5" x2="235.36" y2="394.1" stroke="#555" stroke-width="0.7"/>
<line x1="346.64" y1="528.2" x2="346.64" y2="526.6" stroke="#555" stroke-width="0.7"/>
<line x1="346.64" y1="392.5" x2="346.64" y2="394.1" stroke="#555" stroke-width="0.7"/>
<text transform="translate(235.36,536.9) scale(0.93,1)" font-size="7.4" fill="#4a4a4a" stroke="#4a4a4a" stroke-width="0.08" text-anchor="middle">Q3-2000</text>
<text transform="translate(346.64,536.9) scale(0.93,1)" font-size="7.4" fill="#4a4a4a" stroke="#4a4a4a" stroke-width="0.08" text-anchor="middle">Q4-2002</text>
<text transform="translate(291,545.4) scale(0.96,1)" font-size="7.9" fill="#444444" stroke="#444444" stroke-width="0.06" text-anchor="middle">Year</text>
<text transform="translate(292,388.8) scale(0.893,1)" font-size="11.3" fill="#262626" stroke="#262626" stroke-width="0.15" text-anchor="middle" font-style="italic">Recession 2001: n</text>
<text transform="translate(206.5,460.35) rotate(-90)" font-size="7.4" fill="#444444" stroke="#444444" stroke-width="0.06" text-anchor="middle">Percentage</text>
</svg></body></html>
